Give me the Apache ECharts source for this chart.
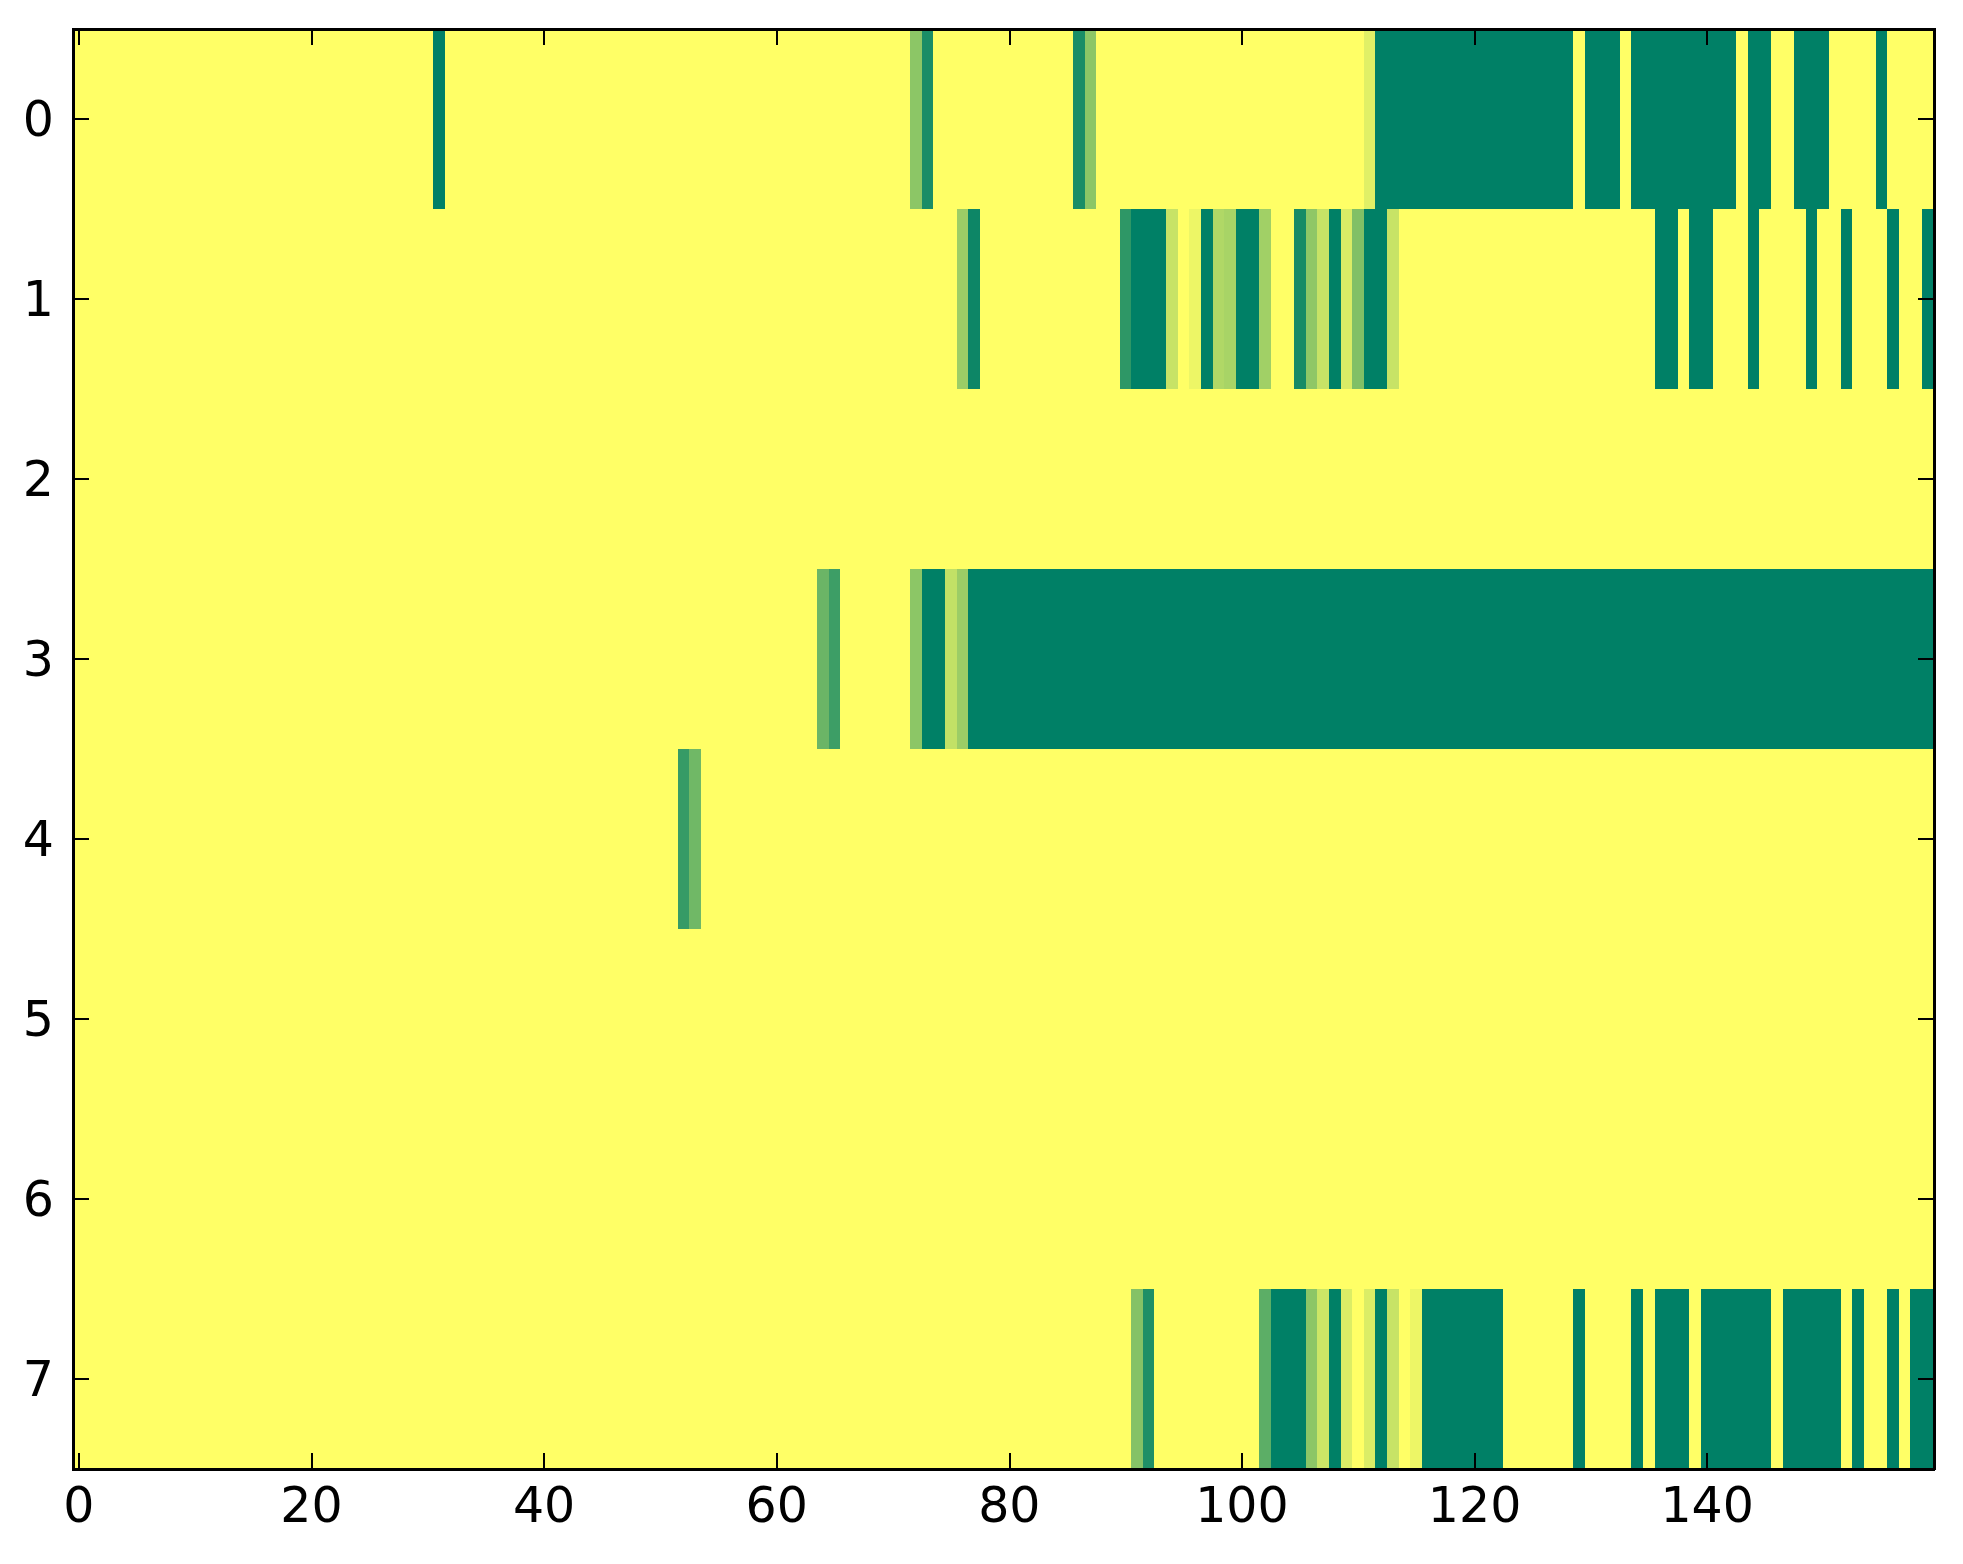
<!DOCTYPE html>
<html>
<head>
<meta charset="utf-8">
<script src="https://cdn.jsdelivr.net/npm/echarts@6/dist/echarts.min.js"></script>
<style>
html,body{margin:0;padding:0;background:#fff;}
#chart{width:1963px;height:1564px;}
#chart svg path{shape-rendering:crispEdges;}
</style>
</head>
<body>
<div id="chart"></div>
<script>
// Row labels (y axis, top to bottom)
const rowLabels = ['0','1','2','3','4','5','6','7'];

// Values per row, 160 columns each (20 per line)
const row0 = [
0,0,0,0,0,0,0,0,0,0,0,0,0,0,0,0,0,0,0,0,
0,0,0,0,0,0,0,0,0,0,0,1,0,0,0,0,0,0,0,0,
0,0,0,0,0,0,0,0,0,0,0,0,0,0,0,0,0,0,0,0,
0,0,0,0,0,0,0,0,0,0,0,0,0.45,0.9,0,0,0,0,0,0,
0,0,0,0,0,0,0.9,0.45,0,0,0,0,0,0,0,0,0,0,0,0,
0,0,0,0,0,0,0,0,0,0,0,0.12,1,1,1,1,1,1,1,1,
1,1,1,1,1,1,1,1,1,0,1,1,1,0,1,1,1,1,1,1,
1,1,1,0,1,1,0,0,1,1,1,0,0,0,0,1,0,0,0,0
];
const row1 = [
0,0,0,0,0,0,0,0,0,0,0,0,0,0,0,0,0,0,0,0,
0,0,0,0,0,0,0,0,0,0,0,0,0,0,0,0,0,0,0,0,
0,0,0,0,0,0,0,0,0,0,0,0,0,0,0,0,0,0,0,0,
0,0,0,0,0,0,0,0,0,0,0,0,0,0,0,0,0.39,0.95,0,0,
0,0,0,0,0,0,0,0,0,0,0.82,1,1,1,0.22,0,0.07,1,0.31,0.34,
1,1,0.37,0,0,0.91,0.44,0.22,1,0.15,0.5,1,1,0.22,0,0,0,0,0,0,
0,0,0,0,0,0,0,0,0,0,0,0,0,0,0,0,1,1,0,1,
1,0,0,0,1,0,0,0,0,1,0,0,1,0,0,0,1,0,0,1
];
const row2 = [
0,0,0,0,0,0,0,0,0,0,0,0,0,0,0,0,0,0,0,0,
0,0,0,0,0,0,0,0,0,0,0,0,0,0,0,0,0,0,0,0,
0,0,0,0,0,0,0,0,0,0,0,0,0,0,0,0,0,0,0,0,
0,0,0,0,0,0,0,0,0,0,0,0,0,0,0,0,0,0,0,0,
0,0,0,0,0,0,0,0,0,0,0,0,0,0,0,0,0,0,0,0,
0,0,0,0,0,0,0,0,0,0,0,0,0,0,0,0,0,0,0,0,
0,0,0,0,0,0,0,0,0,0,0,0,0,0,0,0,0,0,0,0,
0,0,0,0,0,0,0,0,0,0,0,0,0,0,0,0,0,0,0,0
];
const row3 = [
0,0,0,0,0,0,0,0,0,0,0,0,0,0,0,0,0,0,0,0,
0,0,0,0,0,0,0,0,0,0,0,0,0,0,0,0,0,0,0,0,
0,0,0,0,0,0,0,0,0,0,0,0,0,0,0,0,0,0,0,0,
0,0,0,0,0.58,0.76,0,0,0,0,0,0,0.45,1,1,0.24,0.39,1,1,1,
1,1,1,1,1,1,1,1,1,1,1,1,1,1,1,1,1,1,1,1,
1,1,1,1,1,1,1,1,1,1,1,1,1,1,1,1,1,1,1,1,
1,1,1,1,1,1,1,1,1,1,1,1,1,1,1,1,1,1,1,1,
1,1,1,1,1,1,1,1,1,1,1,1,1,1,1,1,1,1,1,1
];
const row4 = [
0,0,0,0,0,0,0,0,0,0,0,0,0,0,0,0,0,0,0,0,
0,0,0,0,0,0,0,0,0,0,0,0,0,0,0,0,0,0,0,0,
0,0,0,0,0,0,0,0,0,0,0,0,0.79,0.56,0,0,0,0,0,0,
0,0,0,0,0,0,0,0,0,0,0,0,0,0,0,0,0,0,0,0,
0,0,0,0,0,0,0,0,0,0,0,0,0,0,0,0,0,0,0,0,
0,0,0,0,0,0,0,0,0,0,0,0,0,0,0,0,0,0,0,0,
0,0,0,0,0,0,0,0,0,0,0,0,0,0,0,0,0,0,0,0,
0,0,0,0,0,0,0,0,0,0,0,0,0,0,0,0,0,0,0,0
];
const row5 = [
0,0,0,0,0,0,0,0,0,0,0,0,0,0,0,0,0,0,0,0,
0,0,0,0,0,0,0,0,0,0,0,0,0,0,0,0,0,0,0,0,
0,0,0,0,0,0,0,0,0,0,0,0,0,0,0,0,0,0,0,0,
0,0,0,0,0,0,0,0,0,0,0,0,0,0,0,0,0,0,0,0,
0,0,0,0,0,0,0,0,0,0,0,0,0,0,0,0,0,0,0,0,
0,0,0,0,0,0,0,0,0,0,0,0,0,0,0,0,0,0,0,0,
0,0,0,0,0,0,0,0,0,0,0,0,0,0,0,0,0,0,0,0,
0,0,0,0,0,0,0,0,0,0,0,0,0,0,0,0,0,0,0,0
];
const row6 = [
0,0,0,0,0,0,0,0,0,0,0,0,0,0,0,0,0,0,0,0,
0,0,0,0,0,0,0,0,0,0,0,0,0,0,0,0,0,0,0,0,
0,0,0,0,0,0,0,0,0,0,0,0,0,0,0,0,0,0,0,0,
0,0,0,0,0,0,0,0,0,0,0,0,0,0,0,0,0,0,0,0,
0,0,0,0,0,0,0,0,0,0,0,0,0,0,0,0,0,0,0,0,
0,0,0,0,0,0,0,0,0,0,0,0,0,0,0,0,0,0,0,0,
0,0,0,0,0,0,0,0,0,0,0,0,0,0,0,0,0,0,0,0,
0,0,0,0,0,0,0,0,0,0,0,0,0,0,0,0,0,0,0,0
];
const row7 = [
0,0,0,0,0,0,0,0,0,0,0,0,0,0,0,0,0,0,0,0,
0,0,0,0,0,0,0,0,0,0,0,0,0,0,0,0,0,0,0,0,
0,0,0,0,0,0,0,0,0,0,0,0,0,0,0,0,0,0,0,0,
0,0,0,0,0,0,0,0,0,0,0,0,0,0,0,0,0,0,0,0,
0,0,0,0,0,0,0,0,0,0,0,0.48,0.88,0,0,0,0,0,0,0,
0,0,0.64,1,1,1,0.45,0.2,1,0.14,0,0.14,1,0.22,0,0.07,1,1,1,1,
1,1,1,0,0,0,0,0,0,1,0,0,0,0,1,0,1,1,1,0,
1,1,1,1,1,1,0,1,1,1,1,1,0,1,0,0,1,0,1,1
];

const rows = [row0, row1, row2, row3, row4, row5, row6, row7];

// Column categories 0..159 (indices)
const colLabels = [];
for (let i = 0; i < row0.length; i++) colLabels.push(String(i));

const data = [];
rows.forEach((r, y) => r.forEach((v, x) => data.push([x, y, v])));

const font = 'DejaVu Sans';
const lineStyle = { color: '#000', width: 2.5 };
const tickStyle = { color: '#000', width: 2 };

const chart = echarts.init(document.getElementById('chart'), null, { renderer: 'svg' });
chart.setOption({
  backgroundColor: '#fff',
  animation: false,
  grid: { left: 73, top: 29, width: 1861, height: 1440, containLabel: false },
  xAxis: [
    {
      type: 'category', data: colLabels, position: 'bottom', z: 10,
      axisLine: { show: true, lineStyle: lineStyle },
      axisTick: { show: true, inside: true, length: 16, interval: 19, alignWithLabel: true, lineStyle: tickStyle },
      axisLabel: { interval: 19, fontSize: 49, fontFamily: font, color: '#000', margin: 12 },
      splitLine: { show: false }
    },
    {
      type: 'category', data: colLabels, position: 'top', z: 10,
      axisLine: { show: true, lineStyle: lineStyle },
      axisTick: { show: true, inside: true, length: 16, interval: 19, alignWithLabel: true, lineStyle: tickStyle },
      axisLabel: { show: false },
      splitLine: { show: false }
    }
  ],
  yAxis: [
    {
      type: 'category', data: rowLabels, inverse: true, position: 'left', z: 10,
      axisLine: { show: true, lineStyle: lineStyle },
      axisTick: { show: true, inside: true, length: 16, interval: 0, alignWithLabel: true, lineStyle: tickStyle },
      axisLabel: { interval: 0, fontSize: 49, fontFamily: font, color: '#000', margin: 19 },
      splitLine: { show: false }
    },
    {
      type: 'category', data: rowLabels, inverse: true, position: 'right', z: 10,
      axisLine: { show: true, lineStyle: lineStyle },
      axisTick: { show: true, inside: true, length: 16, interval: 0, alignWithLabel: true, lineStyle: tickStyle },
      axisLabel: { show: false },
      splitLine: { show: false }
    }
  ],
  visualMap: {
    show: false, type: 'continuous', min: 0, max: 1, dimension: 2,
    inRange: { color: ['#ffff66', '#008066'] }
  },
  series: [{
    type: 'heatmap',
    xAxisIndex: 0, yAxisIndex: 0,
    data: data,
    progressive: 0,
    itemStyle: { borderWidth: 0 },
    emphasis: { disabled: true }
  }]
});
</script>
</body>
</html>
